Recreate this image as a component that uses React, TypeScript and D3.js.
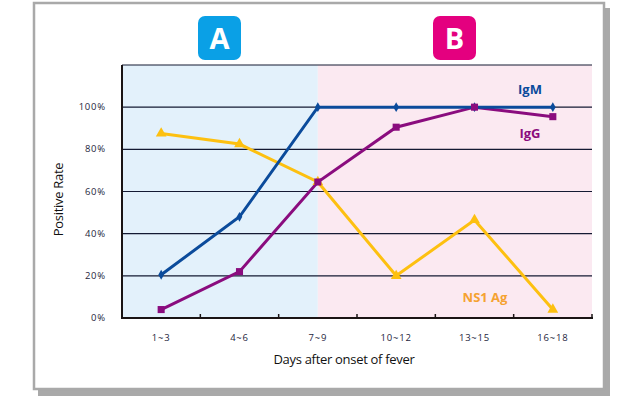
import React from "react";
import * as d3 from "d3";

const categories = ["1~3", "4~6", "7~9", "10~12", "13~15", "16~18"];
const igmValues = [20.5, 48, 100, 100, 100, 100];
const iggValues = [4, 22, 64.5, 90.5, 100, 95.5];
const ns1Values = [87.5, 82.5, 64.5, 20, 46.5, 4];
const yTicks = [0, 20, 40, 60, 80, 100];

const W = 635;
const H = 408;
const plot = { left: 122, right: 592, top: 65, bottom: 318 };
const FONT = "'Liberation Sans Narrow', 'Open Sans', Arial, sans-serif";

const IGM = "#0b4b9b";
const IGG = "#8a0c7e";
const NS1 = "#fdc010";

export default function App() {
  const x = d3.scaleBand<string>().domain(categories).range([plot.left, plot.right]);
  const y = d3.scaleLinear().domain([0, 120]).range([plot.bottom, plot.top]);
  const cx = (c: string) => (x(c) as number) + x.bandwidth() / 2;
  const line = d3
    .line<number>()
    .x((_, i) => cx(categories[i]))
    .y((d) => y(d));
  const split = cx("7~9");
  const boundaries = categories.map((c) => x(c) as number).concat([plot.right]);

  const diamond = d3.symbol().type(d3.symbolDiamond).size(28)();
  const square = d3.symbol().type(d3.symbolSquare).size(50)();
  const triangle = d3.symbol().type(d3.symbolTriangle).size(50)();

  return (
    <svg
      width={W}
      height={H}
      style={{ position: "absolute", left: 0, top: 0, display: "block" }}
      fontFamily={FONT}
    >
      <rect x={0} y={0} width={W} height={H} fill="#fff" />
      {/* shadow */}
      <rect x={38} y={8} width={572} height={388} fill="#a9a9a9" />
      {/* frame */}
      <rect x={34} y={3} width={570} height={386} fill="#fff" stroke="#a9a9a9" strokeWidth={2.5} />

      {/* backgrounds */}
      <rect x={plot.left} y={plot.top} width={split - plot.left} height={plot.bottom - plot.top} fill="#e3f1fb" />
      <rect x={split} y={plot.top} width={plot.right - split} height={plot.bottom - plot.top} fill="#fbe9f1" />

      {/* gridlines */}
      {yTicks.filter((t) => t > 0).map((t) => (
        <line key={t} x1={plot.left} x2={plot.right} y1={y(t)} y2={y(t)} stroke="#141a33" strokeWidth={1.1} />
      ))}
      <line x1={plot.left} x2={plot.right} y1={plot.top} y2={plot.top} stroke="#141a33" strokeWidth={1.1} />

      {/* axes */}
      <line x1={plot.left} x2={plot.left} y1={plot.top} y2={plot.bottom + 1} stroke="#1a1414" strokeWidth={2} />
      <line x1={plot.left - 1} x2={plot.right + 1} y1={plot.bottom} y2={plot.bottom} stroke="#1a1414" strokeWidth={2} />
      {boundaries.slice(1).map((b, i) => (
        <line key={i} x1={b} x2={b} y1={plot.bottom} y2={plot.bottom - 4} stroke="#1a1414" strokeWidth={1.5} />
      ))}

      {/* y tick labels */}
      {yTicks.map((t) => (
        <text
          key={t}
          x={106}
          y={y(t) + 3}
          textAnchor="end"
          fontSize={9.5}
          letterSpacing={0.8}
          fill="#1e1e3c"
        >
          {t}%
        </text>
      ))}

      {/* x tick labels */}
      {categories.map((c) => (
        <text key={c} x={cx(c)} y={341} textAnchor="middle" fontSize={9.5} letterSpacing={0.8} fill="#1e1e3c">
          {c}
        </text>
      ))}

      {/* axis titles */}
      <text x={344} y={364} textAnchor="middle" fontSize={13} letterSpacing={-0.3} fill="#111">
        Days after onset of fever
      </text>
      <text
        transform={`translate(63, ${(plot.top + plot.bottom) / 2 + 8}) rotate(-90)`}
        textAnchor="middle"
        fontSize={13}
        letterSpacing={-0.3}
        fill="#111"
      >
        Positive Rate
      </text>

      {/* series lines */}
      <path d={line(ns1Values) || ""} fill="none" stroke={NS1} strokeWidth={3} strokeLinejoin="miter" />
      <path d={line(iggValues) || ""} fill="none" stroke={IGG} strokeWidth={3} />
      <path d={line(igmValues) || ""} fill="none" stroke={IGM} strokeWidth={3} />

      {ns1Values.map((v, i) => (
        <path key={"n" + i} d={triangle || ""} transform={`translate(${cx(categories[i])},${y(v)})`} fill={NS1} />
      ))}
      {igmValues.map((v, i) => (
        <path key={"m" + i} d={diamond || ""} transform={`translate(${cx(categories[i])},${y(v)})`} fill={IGM} />
      ))}
      {iggValues.map((v, i) => (
        <path key={"g" + i} d={square || ""} transform={`translate(${cx(categories[i])},${y(v)})`} fill={IGG} />
      ))}

      {/* series labels */}
      <text x={530} y={94} textAnchor="middle" fontSize={13} fontWeight="bold" fill={IGM}>
        IgM
      </text>
      <text x={530} y={138} textAnchor="middle" fontSize={13} fontWeight="bold" fill={IGG}>
        IgG
      </text>
      <text x={485} y={302} textAnchor="middle" fontSize={13} fontWeight="bold" fill="#f5a231">
        NS1 Ag
      </text>

      {/* badges */}
      <rect x={198} y={16} width={43} height={44} rx={7} fill="#0aa0e6" />
      <text x={219.5} y={49} textAnchor="middle" fontSize={29} fontWeight="bold" fill="#fff" fontFamily="'Open Sans', Arial, sans-serif">
        A
      </text>
      <rect x={433} y={16} width={43} height={44} rx={7} fill="#e4007f" />
      <text x={454.5} y={49} textAnchor="middle" fontSize={29} fontWeight="bold" fill="#fff" fontFamily="'Open Sans', Arial, sans-serif">
        B
      </text>
    </svg>
  );
}
